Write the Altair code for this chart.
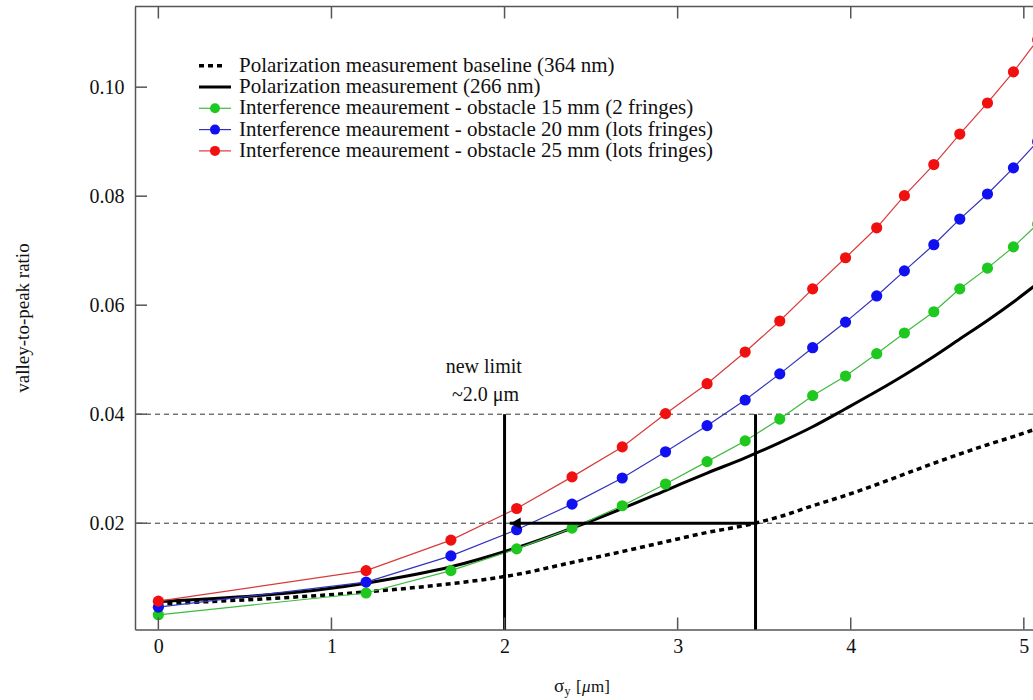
import altair as alt
import pandas as pd

# ---------------- data ----------------
sigma = [0, 1.2, 1.69, 2.07, 2.39, 2.68, 2.93, 3.17, 3.39, 3.59, 3.78, 3.97,
         4.15, 4.31, 4.48, 4.63, 4.79, 4.94, 5.08]
obst25 = [0.0057, 0.0113, 0.0169, 0.0227, 0.0285, 0.0340, 0.0401, 0.0456, 0.0514,
          0.0571, 0.0630, 0.0687, 0.0742, 0.0801, 0.0858, 0.0914, 0.0971, 0.1028, 0.1087]
obst20 = [0.0046, 0.0092, 0.0140, 0.0188, 0.0235, 0.0283, 0.0331, 0.0379, 0.0426,
          0.0474, 0.0522, 0.0569, 0.0617, 0.0663, 0.0711, 0.0758, 0.0804, 0.0852, 0.0900]
obst15 = [0.0032, 0.0072, 0.0113, 0.0153, 0.0191, 0.0232, 0.0272, 0.0313, 0.0351,
          0.0391, 0.0434, 0.0470, 0.0511, 0.0549, 0.0588, 0.0630, 0.0668, 0.0707, 0.0749]
pol266 = [0.0056, 0.0090, 0.0120, 0.0155, 0.0191, 0.0227, 0.0260, 0.0292, 0.0320,
          0.0348, 0.0377, 0.0410, 0.0442, 0.0472, 0.0506, 0.0538, 0.0572, 0.0606, 0.0640]
base364 = [0.0052, 0.0074, 0.0089, 0.0106, 0.0128, 0.0148, 0.0166, 0.0183, 0.0196,
           0.0212, 0.0232, 0.0251, 0.0271, 0.0290, 0.0310, 0.0327, 0.0344, 0.0359, 0.0374]

legend_labels = [
    "Polarization measurement baseline (364 nm)",
    "Polarization measurement (266 nm)",
    "Interference meaurement - obstacle 15 mm (2 fringes)",
    "Interference meaurement - obstacle 20 mm (lots fringes)",
    "Interference meaurement - obstacle 25 mm (lots fringes)",
]
ref_levels = [0.02, 0.04]
limit_x = [2.0, 3.45]
limit_top = [0.04, 0.04]
arrow_from = 3.45
arrow_to = 2.03
arrow_level = 0.02
note_lines = ["new limit", "~2.0 μm"]
note_x = [1.88, 1.89]
note_y = [0.0487, 0.0435]
x_ticks = [0, 1, 2, 3, 4, 5]
y_ticks = [0.02, 0.04, 0.06, 0.08, 0.10]

# ---------------- layout ----------------
W, H = 898, 623
FONT = "Liberation Serif"
AX = "#555555"
TXT = "#111111"
xs = alt.Scale(domain=[-0.135, 5.053], nice=False, zero=False)
ys = alt.Scale(domain=[0.0005, 0.1148], nice=False, zero=False)

AXIS_X = alt.Axis(values=x_ticks, format="d", tickSize=0, labelPadding=7,
                  labelFont=FONT, labelFontSize=20, labelColor=TXT,
                  domainColor=AX, domainWidth=1.5, grid=False, title=None)
AXIS_Y = alt.Axis(values=y_ticks, format=".2f", tickSize=0, labelPadding=11,
                  labelFont=FONT, labelFontSize=20, labelColor=TXT,
                  domainColor=AX, domainWidth=1.5, grid=False,
                  title="valley-to-peak ratio",
                  titleFont=FONT, titleFontSize=19, titleFontWeight="normal",
                  titleColor=TXT, titleX=-113, titleY=311, titleBaseline="middle")

df = pd.DataFrame({"s": sigma, "o25": obst25, "o20": obst20, "o15": obst15,
                   "p266": pol266, "b364": base364})


def X(field="s"):
    return alt.X(f"{field}:Q", scale=xs, axis=AXIS_X)


def Y(field):
    return alt.Y(f"{field}:Q", scale=ys, axis=AXIS_Y)


base = alt.Chart(df)

tick_x_df = pd.DataFrame({"t": x_ticks})
tick_y_df = pd.DataFrame({"t": y_ticks})
one = tick_x_df.iloc[[0]]

frame_top = alt.Chart(one).mark_rule(color=AX, strokeWidth=1.5).encode(
    x=alt.value(0), x2=alt.value(W), y=alt.value(0))
ticks_bottom = alt.Chart(tick_x_df).mark_rule(color=AX, strokeWidth=1.5).encode(
    x=X("t"), y=alt.value(H), y2=alt.value(H - 12))
ticks_top = alt.Chart(tick_x_df).mark_rule(color=AX, strokeWidth=1.5).encode(
    x=X("t"), y=alt.value(0), y2=alt.value(12))
ticks_left = alt.Chart(tick_y_df).mark_rule(color=AX, strokeWidth=1.5).encode(
    y=Y("t"), x=alt.value(0), x2=alt.value(12))

# dashed reference levels
ref = alt.Chart(pd.DataFrame({"v": ref_levels})).mark_rule(
    color="#333", strokeWidth=1, strokeDash=[5, 4]).encode(y=Y("v"))

baseline = base.mark_line(color="black", strokeWidth=3.5, strokeDash=[5, 4],
                          interpolate="monotone").encode(x=X(), y=Y("b364"))
pol = base.mark_line(color="black", strokeWidth=3, interpolate="monotone").encode(
    x=X(), y=Y("p266"))

series_style = [("o15", "#3dbb3d", "#1ec81e"),
                ("o20", "#3333bb", "#1010f0"),
                ("o25", "#d83a3a", "#f01010")]
colored = []
for col, lc, pc in series_style:
    colored.append(base.mark_line(color=lc, strokeWidth=1.2).encode(x=X(), y=Y(col)))
    colored.append(base.mark_point(filled=True, color=pc, opacity=1, size=125)
                   .encode(x=X(), y=Y(col)))

# vertical limits and arrow
lim = alt.Chart(pd.DataFrame({"x": limit_x, "top": limit_top})).mark_rule(
    color="black", strokeWidth=3).encode(x=X("x"), y=Y("top"), y2=alt.value(H))
arrow_df = pd.DataFrame({"x0": [arrow_from], "x1": [arrow_to], "y": [arrow_level]})
arrow_line = alt.Chart(arrow_df).mark_rule(color="black", strokeWidth=3).encode(
    x=X("x0"), x2="x1:Q", y=Y("y"))
arrow_head = alt.Chart(arrow_df).mark_point(
    shape="triangle-left", filled=True, color="black", opacity=1, size=130,
    xOffset=6).encode(x=X("x1"), y=Y("y"))

notes = alt.Chart(pd.DataFrame({"t": note_lines, "x": note_x, "y": note_y})).mark_text(
    font=FONT, fontSize=20, color=TXT, align="center", baseline="middle").encode(
    x=X("x"), y=Y("y"), text="t:N")

# manual legend (pixel layout inside the plot)
LEG_Y0, LEG_DY = 59.2, 21.3
leg_layers = []
for i, label in enumerate(legend_labels):
    ly = LEG_Y0 + LEG_DY * i
    leg_layers.append(alt.Chart(one).mark_text(
        text=label, font=FONT, fontSize=21, color=TXT, align="left",
        baseline="middle").encode(x=alt.value(104), y=alt.value(ly)))
    if i == 0:
        leg_layers.append(alt.Chart(one).mark_rule(
            color="black", strokeWidth=3.5, strokeDash=[5, 4]).encode(
            x=alt.value(64), x2=alt.value(88), y=alt.value(ly)))
    elif i == 1:
        leg_layers.append(alt.Chart(one).mark_rule(color="black", strokeWidth=3).encode(
            x=alt.value(64), x2=alt.value(96), y=alt.value(ly)))
    else:
        col, lc, pc = series_style[i - 2]
        leg_layers.append(alt.Chart(one).mark_rule(color=lc, strokeWidth=1.2).encode(
            x=alt.value(64), x2=alt.value(96), y=alt.value(ly)))
        leg_layers.append(alt.Chart(one).mark_point(
            filled=True, color=pc, opacity=1, size=100).encode(
            x=alt.value(80), y=alt.value(ly)))

# x-axis title with subscript
XT_Y = 685


def piece(t, x, y, size=18, style="normal"):
    return alt.Chart(one).mark_text(
        text=t, font=FONT, fontSize=size, fontStyle=style, color=TXT, align="left",
        baseline="alphabetic").encode(x=alt.value(x), y=alt.value(y))


xtitle = [piece("σ", 419, XT_Y, 19), piece("y", 429.5, XT_Y + 3.5, 12),
          piece("[", 441, XT_Y, 17), piece("μ", 447, XT_Y, 17, "italic"),
          piece("m]", 456, XT_Y, 17)]

chart = alt.layer(
    ref, baseline, pol, *colored, lim, arrow_line, arrow_head, notes,
    frame_top, ticks_bottom, ticks_top, ticks_left,
    *leg_layers, *xtitle,
).properties(
    width=W, height=H,
    autosize=alt.AutoSizeParams(type="none"),
    padding={"left": 135, "top": 6.5, "right": 0, "bottom": 70.5},
    background="white",
).configure_view(strokeWidth=0)

chart.save("out.html", embed_options={"renderer": "svg", "actions": False})
